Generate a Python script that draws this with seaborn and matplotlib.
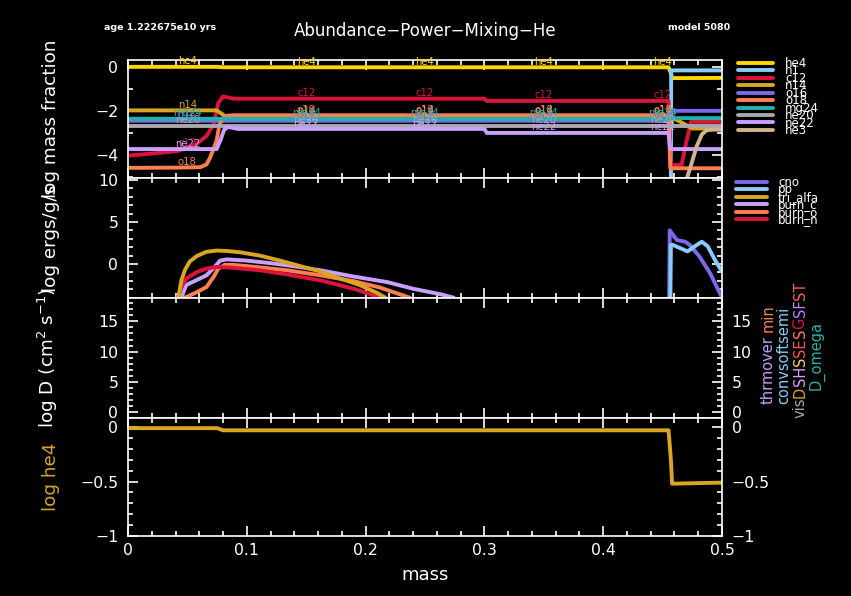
import numpy as np
import matplotlib
matplotlib.use("Agg")
import matplotlib.pyplot as plt
import seaborn as sns
from matplotlib.ticker import MultipleLocator, FuncFormatter

# abundance profiles (log mass fraction vs mass)
he4_mass = [0, 0.075, 0.08, 0.455, 0.457, 0.458, 0.5]
he4_logx = [-0.01, -0.01, -0.03, -0.03, -0.3, -0.52, -0.51]
h1_mass = [0.457, 0.4572, 0.5]
h1_logx = [-6.0, -0.17, -0.17]
c12_mass = [0, 0.041, 0.055, 0.066, 0.072, 0.076, 0.08, 0.089, 0.3, 0.302, 0.455, 0.457, 0.466, 0.47, 0.474, 0.5]
c12_logx = [-4.03, -3.83, -3.6, -3.15, -2.62, -1.64, -1.35, -1.45, -1.45, -1.55, -1.55, -4.45, -4.45, -3.4, -2.5, -2.5]
n14_mass = [0, 0.0746, 0.078, 0.082, 0.455, 0.458, 0.465, 0.475, 0.5]
n14_logx = [-1.98, -1.98, -2.1, -2.25, -2.25, -2.3, -2.5, -2.8, -2.8]
o16_mass = [0, 0.455, 0.4565, 0.5]
o16_logx = [-2.45, -2.45, -2.0, -2.0]
o18_mass = [0, 0.041, 0.061, 0.066, 0.069, 0.0745, 0.077, 0.081, 0.088, 0.455, 0.4565, 0.5]
o18_logx = [-4.58, -4.57, -4.55, -4.43, -4.13, -3.37, -2.62, -2.24, -2.2, -2.2, -4.6, -4.6]
mg24_mass = [0, 0.455, 0.457, 0.5]
mg24_logx = [-2.36, -2.36, -2.33, -2.33]
ne20_mass = [0, 0.5]
ne20_logx = [-2.67, -2.67]
ne22_mass = [0, 0.0746, 0.078, 0.081, 0.0843, 0.0926, 0.3, 0.302, 0.455, 0.4565, 0.5]
ne22_logx = [-3.73, -3.73, -3.3, -2.85, -2.73, -2.82, -2.82, -3.0, -3.0, -3.73, -3.73]
he3_mass = [0.469, 0.4745, 0.4787, 0.483, 0.487, 0.492, 0.5]
he3_logx = [-5.3, -4.36, -3.6, -3.07, -2.88, -2.85, -2.85]

species = ["he4", "h1", "c12", "n14", "o16", "o18", "mg24", "ne20", "ne22", "he3"]
species_colors = ["#ffd700", "#87cefa", "#dc143c", "#daa520", "#7b68ee",
                  "#ff7f50", "#20b2aa", "#a9a9a9", "#c9a0ff", "#d2b48c"]
label_masses = [0.05, 0.15, 0.25, 0.35, 0.45]

# power profiles (log ergs/g/s)
cno_mass = [0.4555, 0.456, 0.462, 0.469, 0.473, 0.481, 0.49, 0.5]
cno_eps = [-4.3, 4.0, 2.85, 2.65, 2.25, 0.9, -1.1, -4.0]
pp_mass = [0.4565, 0.457, 0.459, 0.4646, 0.471, 0.477, 0.483, 0.488, 0.494, 0.5]
pp_eps = [-4.3, 2.3, 2.25, 1.9, 1.5, 2.1, 2.65, 2.1, 0.5, -0.9]
tri_mass = [0.0424, 0.045, 0.048, 0.052, 0.058, 0.066, 0.0746, 0.083, 0.094, 0.111,
            0.128, 0.145, 0.162, 0.178, 0.195, 0.209, 0.216, 0.219]
tri_eps = [-4.0, -1.9, -0.7, 0.3, 0.95, 1.45, 1.6, 1.55, 1.4, 1.0,
           0.4, -0.25, -0.9, -1.7, -2.5, -3.4, -3.95, -4.3]
burnc_mass = [0.045, 0.049, 0.058, 0.066, 0.073, 0.0775, 0.083, 0.1, 0.12, 0.139,
              0.162, 0.19, 0.218, 0.24, 0.263, 0.274, 0.276]
burnc_eps = [-4.0, -2.5, -1.9, -1.35, -0.35, 0.4, 0.55, 0.4, 0.1, -0.25,
             -0.75, -1.5, -2.15, -2.95, -3.6, -4.0, -4.3]
burno_mass = [0.048, 0.058, 0.066, 0.072, 0.076, 0.0816, 0.0887, 0.111, 0.134,
              0.162, 0.19, 0.212, 0.237, 0.239]
burno_eps = [-4.0, -3.35, -2.75, -1.55, -0.55, -0.1, -0.1, -0.4, -0.75,
             -1.35, -2.05, -2.8, -4.0, -4.3]
burnn_mass = [0.042, 0.045, 0.049, 0.058, 0.066, 0.0746, 0.0887, 0.111, 0.134,
              0.162, 0.19, 0.204, 0.212, 0.214]
burnn_eps = [-4.0, -2.75, -1.75, -0.95, -0.55, -0.35, -0.45, -0.75, -1.25,
             -1.95, -2.95, -3.6, -4.05, -4.3]

power_names = ["cno", "pp", "tri_alfa", "burn_c", "burn_o", "burn_n"]
power_colors = ["#7b68ee", "#87cefa", "#daa520", "#c9a0ff", "#ff7f50", "#dc143c"]

W, H = 851, 596
sns.set_style("ticks", rc={
    "axes.facecolor": "black", "figure.facecolor": "black",
    "axes.edgecolor": "white", "xtick.color": "white", "ytick.color": "white",
    "text.color": "white", "axes.labelcolor": "white",
})
plt.rcParams["font.family"] = ["DejaVu Sans"]


def num_fmt(v, pos):
    if abs(v) < 1e-9:
        return "0"
    return ("%g" % v).replace("-", "\u2212")


fig = plt.figure(figsize=(W / 100, H / 100), dpi=100)
left_px, right_px = 128, 722
edges = [60, 178, 298, 418, 536]
axes = []
for i in range(4):
    top, bot = edges[i], edges[i + 1]
    ax = fig.add_axes([left_px / W, 1 - bot / H, (right_px - left_px) / W, (bot - top) / H])
    ax.set_xlim(0, 0.5)
    ax.xaxis.set_major_locator(MultipleLocator(0.1))
    ax.xaxis.set_minor_locator(MultipleLocator(0.02))
    ax.xaxis.set_major_formatter(FuncFormatter(num_fmt))
    ax.yaxis.set_major_formatter(FuncFormatter(num_fmt))
    ax.tick_params(which="both", direction="in", top=True, right=True,
                   width=1.2, labelsize=11.3, colors="white")
    ax.tick_params(which="major", length=7, pad=7)
    ax.tick_params(which="minor", length=3.5)
    for sp in ax.spines.values():
        sp.set_color("white")
        sp.set_linewidth(1.2)
    if i < 3:
        ax.tick_params(labelbottom=False)
    axes.append(ax)

ax1, ax2, ax3, ax4 = axes

# panel 1: abundances
abund = [(he4_mass, he4_logx), (h1_mass, h1_logx), (c12_mass, c12_logx),
         (n14_mass, n14_logx), (o16_mass, o16_logx), (o18_mass, o18_logx),
         (mg24_mass, mg24_logx), (ne20_mass, ne20_logx), (ne22_mass, ne22_logx),
         (he3_mass, he3_logx)]
ylo1, yhi1 = -5.04, 0.3
for name, col, (m, v) in zip(species, species_colors, abund):
    sns.lineplot(x=m, y=v, ax=ax1, color=col, lw=2.8, estimator=None, sort=False, label=name)
for name, col, (m, v) in zip(species, species_colors, abund):
    for xm in label_masses:
        if xm < m[0] or xm > m[-1]:
            continue
        yv = np.interp(xm, m, v)
        if yv > ylo1 + 0.3:
            ax1.text(xm, yv + 0.02, name, color=col, fontsize=7.3,
                     ha="center", va="bottom", clip_on=False)
ax1.set_ylim(ylo1, yhi1)
ax1.yaxis.set_major_locator(MultipleLocator(2))
ax1.yaxis.set_minor_locator(MultipleLocator(1))
h1s, l1s = ax1.get_legend_handles_labels()
if ax1.get_legend():
    ax1.get_legend().remove()

# panel 2: power
power = [(cno_mass, cno_eps), (pp_mass, pp_eps), (tri_mass, tri_eps),
         (burnc_mass, burnc_eps), (burno_mass, burno_eps), (burnn_mass, burnn_eps)]
draw_order = [3, 4, 5, 2, 0, 1]
for k in draw_order:
    m, v = power[k]
    sns.lineplot(x=m, y=v, ax=ax2, color=power_colors[k], lw=2.8,
                 estimator=None, sort=False, label=power_names[k])
ax2.set_ylim(-4.05, 10.24)
ax2.yaxis.set_major_locator(MultipleLocator(5))
ax2.yaxis.set_minor_locator(MultipleLocator(1))
h2s, l2s = ax2.get_legend_handles_labels()
order2 = [l2s.index(n) for n in power_names]
h2s = [h2s[j] for j in order2]
l2s = [l2s[j] for j in order2]
if ax2.get_legend():
    ax2.get_legend().remove()

# panel 3: mixing (empty)
ax3.set_ylim(-1.05, 18.9)
ax3.yaxis.set_major_locator(MultipleLocator(5))
ax3.yaxis.set_minor_locator(MultipleLocator(1))
ax3.tick_params(labelright=True)

# panel 4: log he4
sns.lineplot(x=he4_mass, y=he4_logx, ax=ax4, color="#daa520", lw=2.8,
             estimator=None, sort=False)
ax4.set_ylim(-1.0, 0.083)
ax4.yaxis.set_major_locator(MultipleLocator(0.5))
ax4.yaxis.set_minor_locator(MultipleLocator(0.1))
ax4.tick_params(labelright=True)
ax4.tick_params(axis="x", pad=5)

# axis labels
lab_x = (60 - left_px) / (right_px - left_px)
ax1.set_ylabel("log mass fraction", fontsize=13.2)
ax2.set_ylabel("log ergs/g/s", fontsize=13.2)
ax3.set_ylabel("log D (cm$^2$ s$^{-1}$)", fontsize=13.2)
ax4.set_ylabel("log he4", fontsize=13.2, color="#daa520")
for ax in axes:
    ax.yaxis.set_label_coords(lab_x, 0.5)
ax4.set_xlabel("mass", fontsize=13)
ax4.xaxis.set_label_coords(0.5, -(566 - 536) / 118)

# legends
fs_leg = 8.5
em = fs_leg * 100 / 72
fig.legend(h1s, l1s, loc="upper left", bbox_to_anchor=(738 / W, 1 - 57 / H),
           frameon=False, fontsize=fs_leg, handlelength=35 / em,
           handletextpad=12 / em, labelspacing=-0.47, borderpad=0, borderaxespad=0)
fig.legend(h2s, l2s, loc="upper left", bbox_to_anchor=(736 / W, 1 - 176 / H),
           frameon=False, fontsize=fs_leg, handlelength=31 / em,
           handletextpad=11 / em, labelspacing=-0.47, borderpad=0, borderaxespad=0)

# header
fig.text(104 / W, 1 - 27 / H, "age 1.222675e10 yrs", fontsize=6.8, fontweight="bold",
         ha="left", va="center")
fig.text(425 / W, 1 - 31 / H, "Abundance\u2212Power\u2212Mixing\u2212He", fontsize=12,
         ha="center", va="center")
fig.text(668 / W, 1 - 27 / H, "model 5080", fontsize=6.8, fontweight="bold",
         ha="left", va="center")

# mixing type names on the right of panel 3
renderer = fig.canvas.get_renderer()


def stack_text(x_px, y_px, pieces, size=10.5):
    y = y_px
    for s, c in pieces:
        if s == " ":
            y -= size * 0.35
            continue
        t = fig.text(x_px / W, 1 - y / H, s, rotation=90, ha="center", va="bottom",
                     color=c, fontsize=size)
        y -= t.get_window_extent(renderer=renderer).height


stack_text(768, 404, [("thrmover", "#c9a0ff"), (" ", None), ("min", "#ff7f50")])
stack_text(784, 404, [("convsoftsemi", "#87cefa")])
stack_text(800, 418, [("vis", "#a9a9a9"), ("D", "#daa520"), ("SH", "#d8a0ff"),
                      ("S", "#ffd060"), ("SE", "#ff5050"), ("S", "#ff7f50"),
                      ("G", "#dc143c"), ("SF", "#c080ff"), ("ST", "#ff6060")])
stack_text(817, 390, [("D_omega", "#20b2aa")])

fig.savefig("out.png", dpi=100, facecolor="black")
